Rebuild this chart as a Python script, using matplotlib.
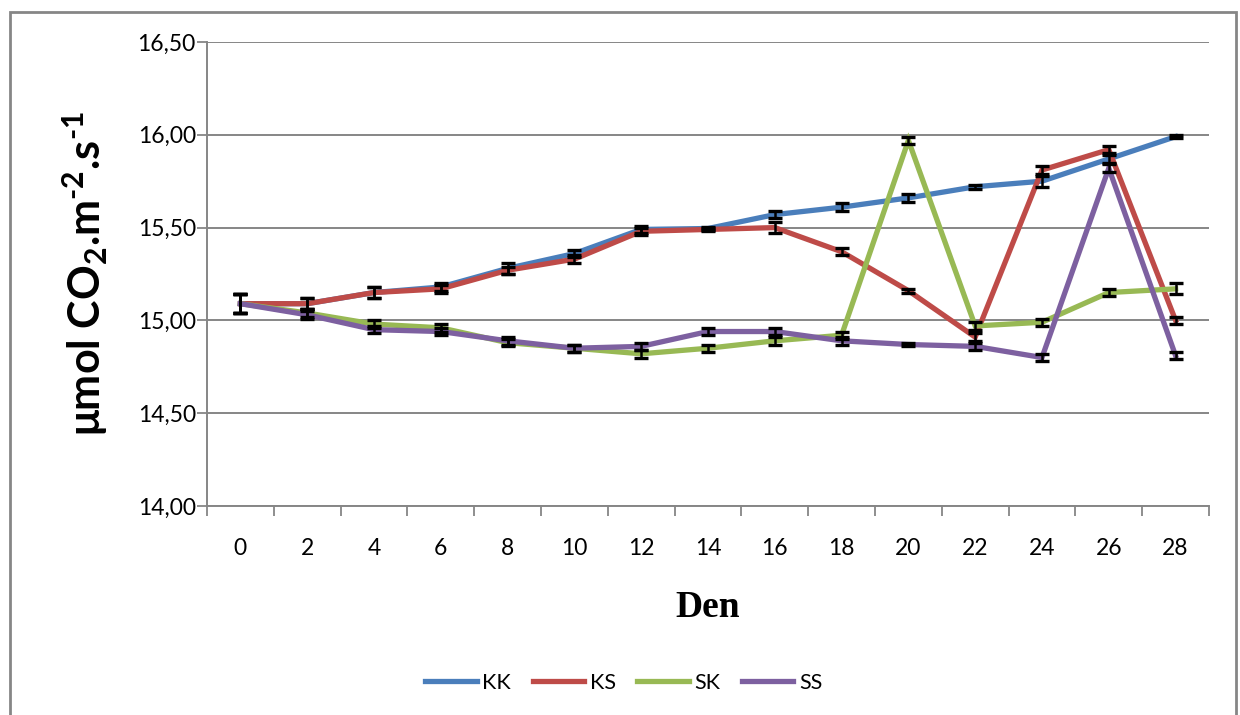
import matplotlib
matplotlib.use("Agg")
import matplotlib.pyplot as plt
from matplotlib.patches import Rectangle
from matplotlib.ticker import FuncFormatter
import numpy as np

# dny měření
dny = [0, 2, 4, 6, 8, 10, 12, 14, 16, 18, 20, 22, 24, 26, 28]

# průměrné hodnoty pro jednotlivé varianty
kk = [15.09, 15.09, 15.15, 15.18, 15.28, 15.36, 15.49, 15.495, 15.57, 15.61, 15.66, 15.72, 15.75, 15.87, 15.99]
ks = [15.09, 15.09, 15.15, 15.17, 15.27, 15.33, 15.48, 15.49, 15.50, 15.37, 15.16, 14.91, 15.81, 15.92, 15.00]
sk = [15.09, 15.04, 14.98, 14.96, 14.88, 14.85, 14.82, 14.85, 14.89, 14.92, 15.97, 14.97, 14.99, 15.15, 15.17]
ss = [15.09, 15.03, 14.95, 14.94, 14.89, 14.85, 14.86, 14.94, 14.94, 14.89, 14.87, 14.86, 14.80, 15.82, 14.81]

# směrodatné chyby
kk_err = [0.05, 0.03, 0.03, 0.02, 0.03, 0.02, 0.02, 0.01, 0.02, 0.02, 0.02, 0.01, 0.03, 0.02, 0.01]
ks_err = [0.05, 0.03, 0.03, 0.02, 0.02, 0.02, 0.02, 0.01, 0.03, 0.02, 0.01, 0.02, 0.02, 0.02, 0.02]
sk_err = [0.05, 0.02, 0.02, 0.02, 0.02, 0.02, 0.02, 0.02, 0.02, 0.02, 0.02, 0.02, 0.02, 0.02, 0.03]
ss_err = [0.05, 0.02, 0.02, 0.02, 0.02, 0.02, 0.02, 0.02, 0.02, 0.02, 0.01, 0.02, 0.02, 0.02, 0.02]

nazvy = ["KK", "KS", "SK", "SS"]
barvy = ["#4A7EBB", "#BE4B48", "#98B954", "#7D60A0"]

plt.rcParams["font.family"] = ["Lato", "DejaVu Sans"]
plt.rcParams["mathtext.fontset"] = "custom"
plt.rcParams["mathtext.rm"] = "Lato:bold"
plt.rcParams["mathtext.bf"] = "Lato:bold"
plt.rcParams["mathtext.it"] = "Lato:bold"

fig = plt.figure(figsize=(12.4, 7.15), dpi=100)
ax = fig.add_axes([0.1669, 0.2923, 0.8081, 0.649])

x = np.arange(len(dny))
for y, e, n, c in zip([kk, ks, sk, ss], [kk_err, ks_err, sk_err, ss_err], nazvy, barvy):
    ax.plot(x, y, color=c, lw=3.8, label=n, zorder=3, solid_joinstyle="miter")
    ax.errorbar(x, y, yerr=e, fmt="none", ecolor="black", elinewidth=1.8,
                capsize=5, capthick=2.4, zorder=4)

ax.set_xlim(-0.5, len(dny) - 0.5)
ax.set_ylim(14.0, 16.5)
ax.set_yticks(np.arange(14.0, 16.51, 0.5))
ax.yaxis.set_major_formatter(FuncFormatter(lambda v, p: f"{v:.2f}".replace(".", ",")))
ax.set_xticks(x)
ax.set_xticklabels([str(d) for d in dny])
ax.set_xticks(np.arange(-0.5, len(dny)), minor=True)
ax.tick_params(axis="x", which="major", length=0, pad=23, labelsize=16.5)
ax.tick_params(axis="x", which="minor", length=7, width=1.3, color="#868686", direction="out")
ax.tick_params(axis="y", length=7, width=1.3, color="#868686", labelsize=16.5, pad=1)

ax.grid(axis="y", color="#868686", lw=1.4, zorder=1)
for s in ["top", "right"]:
    ax.spines[s].set_visible(False)
for s in ["left", "bottom"]:
    ax.spines[s].set_color("#868686")
    ax.spines[s].set_linewidth(1.4)

ax.set_xlabel("Den", fontfamily="Liberation Serif", fontweight="bold", fontsize=27, labelpad=22)
ax.set_ylabel(r"μmol CO$_{2}$.m$^{\text{-}2}$.s$^{\text{-}1}$", fontweight="bold",
              fontsize=31, labelpad=20)

leg = fig.legend(loc="center", bbox_to_anchor=(0.503, 0.045), ncol=4, frameon=False,
                 fontsize=15.5, handlelength=2.4, handletextpad=0.25, columnspacing=1.0)
for h in leg.get_lines():
    h.set_linewidth(3.8)

# rámeček kolem celého grafu
fig.patches.append(Rectangle((10 / 1240, -0.01), 1226 / 1240, 1 - 12 / 715 + 0.01,
                             transform=fig.transFigure, fill=False, ec="#868686", lw=2))

fig.savefig("out.png", dpi=100)
